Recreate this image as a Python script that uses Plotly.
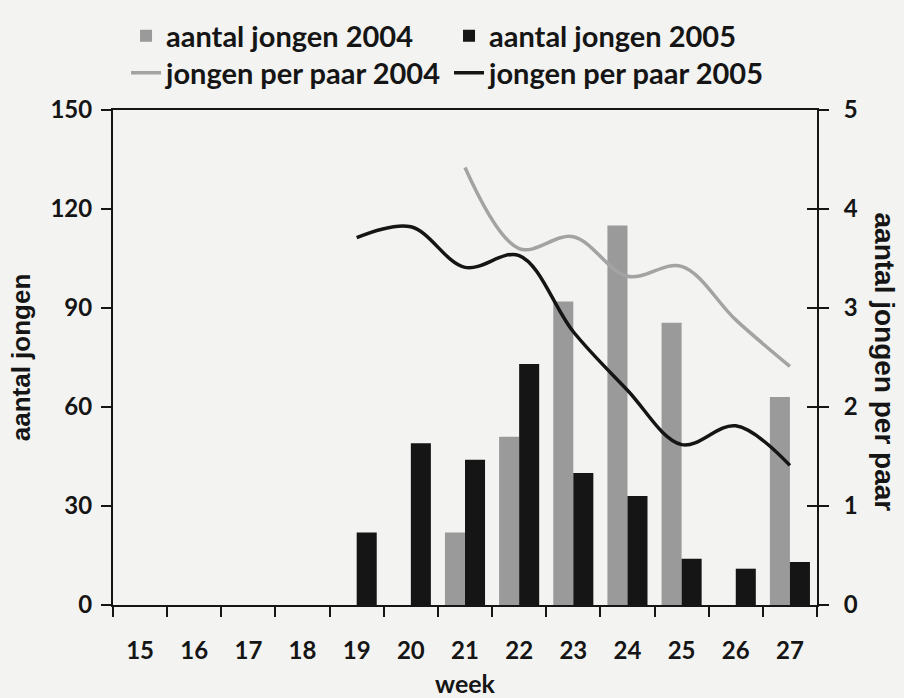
import plotly.graph_objects as go

weeks = ["15", "16", "17", "18", "19", "20", "21", "22", "23", "24", "25", "26", "27"]
aantal_2004 = [None, None, None, None, None, None, 22, 51, 92, 115, 85.5, None, 63]
aantal_2005 = [None, None, None, None, 22, 49, 44, 73, 40, 33, 14, 11, 13]
per_paar_2004 = [None, None, None, None, None, None, 4.42, 3.6, 3.72, 3.32, 3.42, 2.88, 2.41]
per_paar_2005 = [None, None, None, None, 3.71, 3.82, 3.41, 3.53, 2.76, 2.17, 1.62, 1.81, 1.41]

FONT = "Lato"
TFONT = "Liberation Sans"
INK = "#151515"
GREY = "#9a9a9a"
BG = "#f3f3f1"

fig = go.Figure()
fig.add_trace(go.Bar(x=weeks, y=aantal_2004, name="aantal jongen 2004",
                     marker=dict(color=GREY, line=dict(width=0)), legend="legend"))
fig.add_trace(go.Bar(x=weeks, y=aantal_2005, name="aantal jongen 2005",
                     marker=dict(color=INK, line=dict(width=0)), legend="legend2"))
fig.add_trace(go.Scatter(x=weeks, y=per_paar_2004, name="jongen per paar 2004", yaxis="y2",
                         mode="lines", line=dict(color="#a3a3a3", width=3.5, shape="spline", smoothing=1.0),
                         legend="legend3"))
fig.add_trace(go.Scatter(x=weeks, y=per_paar_2005, name="jongen per paar 2005", yaxis="y2",
                         mode="lines", line=dict(color=INK, width=3.5, shape="spline", smoothing=1.0),
                         legend="legend4"))
# invisible trace to activate the inner right ticks (yaxis3)
fig.add_trace(go.Scatter(x=weeks, y=[None] * len(weeks), yaxis="y3", showlegend=False,
                         hoverinfo="skip", mode="lines"))

tickfont = dict(family=FONT, size=24, color=INK, weight="bold")
legfont = dict(family=FONT, size=29, color=INK, weight="bold")

def leg(x, y):
    return dict(orientation="h", x=x, y=y, xanchor="left", yanchor="middle",
                font=legfont, bgcolor="rgba(0,0,0,0)", itemwidth=30, borderwidth=0)

fig.update_layout(
    width=904, height=698,
    margin=dict(l=113, r=87, t=110, b=93, autoexpand=False),
    paper_bgcolor=BG, plot_bgcolor=BG,
    font=dict(family=FONT, color=INK, weight="bold"),
    barmode="group", bargap=0.26, bargroupgap=0.0,
    showlegend=True,
    legend=leg(0.0185, 1.1495),
    legend2=leg(0.4773, 1.1495),
    legend3=leg(0.0185, 1.0747),
    legend4=leg(0.4773, 1.0747),
    xaxis=dict(type="category", showline=True, linecolor=INK, linewidth=2, mirror=True,
               ticks="outside", tickson="boundaries", ticklen=10, tickwidth=2, tickcolor=INK,
               tickfont=tickfont, ticklabelstandoff=23, showgrid=False, zeroline=False,
               title=dict(text="week", font=dict(family=FONT, size=25, color=INK, weight="bold"), standoff=14)),
    yaxis=dict(range=[0, 150], dtick=30, showline=True, linecolor=INK, linewidth=2,
               ticks="outside", ticklen=10, tickwidth=2, tickcolor=INK, tickfont=tickfont,
               ticklabelstandoff=4, showgrid=False, zeroline=False,
               title=dict(text="aantal jongen", font=dict(family=TFONT, size=26, color=INK, weight="bold"), standoff=12)),
    yaxis2=dict(range=[0, 5], dtick=1, overlaying="y", side="right", anchor="x",
                showline=True, linecolor=INK, linewidth=2,
                ticks="outside", ticklen=10, tickwidth=2, tickcolor=INK, tickfont=tickfont,
                ticklabelstandoff=10, showgrid=False, zeroline=False),
    yaxis3=dict(range=[0, 5], dtick=1, overlaying="y", side="right", anchor="x",
                showline=False, ticks="inside", ticklen=10, tickwidth=2, tickcolor=INK,
                showticklabels=False, showgrid=False, zeroline=False),
)

fig.add_annotation(text="aantal jongen per paar", textangle=90, xref="paper", yref="paper",
                   x=1.0, y=0.5, xanchor="center", yanchor="middle", xshift=67, yshift=-4,
                   showarrow=False, font=dict(family=TFONT, size=28, color=INK, weight="bold"))

fig.write_html("out.html", config={"displayModeBar": False},
               post_script="document.body.style.margin='0';document.body.style.background='#f3f3f1';")
